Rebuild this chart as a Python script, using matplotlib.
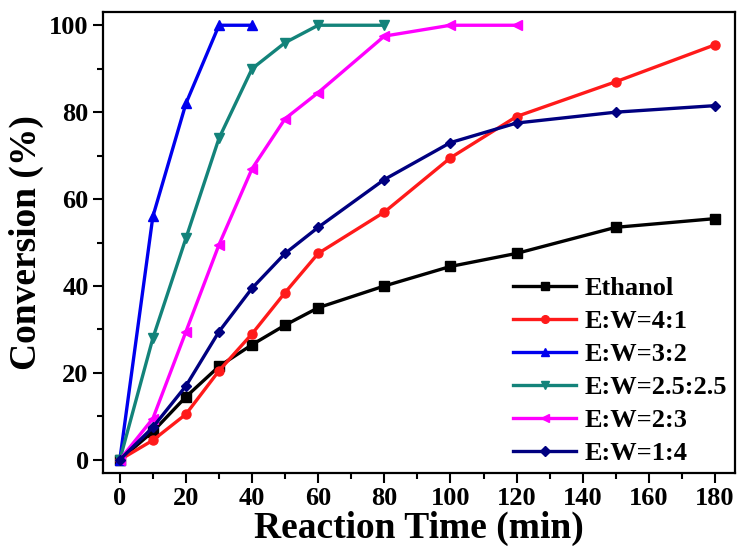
import matplotlib
matplotlib.use("Agg")
import matplotlib.pyplot as plt
from matplotlib.ticker import MultipleLocator

plt.rcParams["font.family"] = ["Liberation Serif", "DejaVu Serif"]
plt.rcParams["font.weight"] = "bold"

# reaction time (min) and conversion (%) per solvent ratio
t_ethanol = [0, 10, 20, 30, 40, 50, 60, 80, 100, 120, 150, 180]
y_ethanol = [0, 6.5, 14.5, 21.5, 26.5, 31, 35, 40, 44.5, 47.5, 53.5, 55.5]

t_41 = [0, 10, 20, 30, 40, 50, 60, 80, 100, 120, 150, 180]
y_41 = [0, 4.5, 10.5, 20.5, 29, 38.5, 47.5, 57, 69.5, 79, 87, 95.5]

t_32 = [0, 10, 20, 30, 40]
y_32 = [0, 56, 82, 100, 100]

t_2525 = [0, 10, 20, 30, 40, 50, 60, 80]
y_2525 = [0, 28, 51, 74, 90, 96, 100, 100]

t_23 = [0, 10, 20, 30, 40, 50, 60, 80, 100, 120]
y_23 = [0, 9.5, 29.5, 49.5, 67, 78.5, 84.5, 97.5, 100, 100]

t_14 = [0, 10, 20, 30, 40, 50, 60, 80, 100, 120, 150, 180]
y_14 = [0, 7.5, 17, 29.5, 39.5, 47.5, 53.5, 64.5, 73, 77.5, 80, 81.5]

series = [
    ("Ethanol", t_ethanol, y_ethanol, "#000000", "s"),
    ("E:W=4:1", t_41, y_41, "#ff1a1a", "o"),
    ("E:W=3:2", t_32, y_32, "#0000ee", "^"),
    ("E:W=2.5:2.5", t_2525, y_2525, "#13837a", "v"),
    ("E:W=2:3", t_23, y_23, "#ff00ff", "<"),
    ("E:W=1:4", t_14, y_14, "#000080", "D"),
]

fig = plt.figure(figsize=(7.43, 5.55), dpi=100)
ax = fig.add_axes([0.139, 0.148, 0.850, 0.830])

for label, t, y, color, marker in series:
    ms = 5.5 if marker == "D" else 6.5
    ax.plot(t, y, color=color, marker=marker, markersize=ms, linewidth=2.4,
            markeredgecolor=color, label=label)

ax.set_xlim(-5, 186)
ax.set_ylim(-3, 103)
ax.xaxis.set_major_locator(MultipleLocator(20))
ax.xaxis.set_minor_locator(MultipleLocator(10))
ax.yaxis.set_major_locator(MultipleLocator(20))
ax.yaxis.set_minor_locator(MultipleLocator(10))
ax.tick_params(which="major", direction="out", length=7, width=1.5, labelsize=19)
ax.tick_params(which="minor", direction="out", length=4, width=1.5)
for side in ax.spines.values():
    side.set_linewidth(1.6)

ax.set_xlabel("Reaction Time (min)", fontsize=27, fontweight="bold", labelpad=0)
ax.set_ylabel("Conversion (%)", fontsize=27, fontweight="bold", labelpad=4)

ax.legend(loc="lower right", frameon=False, fontsize=19, labelspacing=0.36,
          handlelength=2.4, handletextpad=0.3, borderaxespad=0.1, borderpad=0.2,
          markerscale=0.85)

fig.savefig("out.png", dpi=100)
